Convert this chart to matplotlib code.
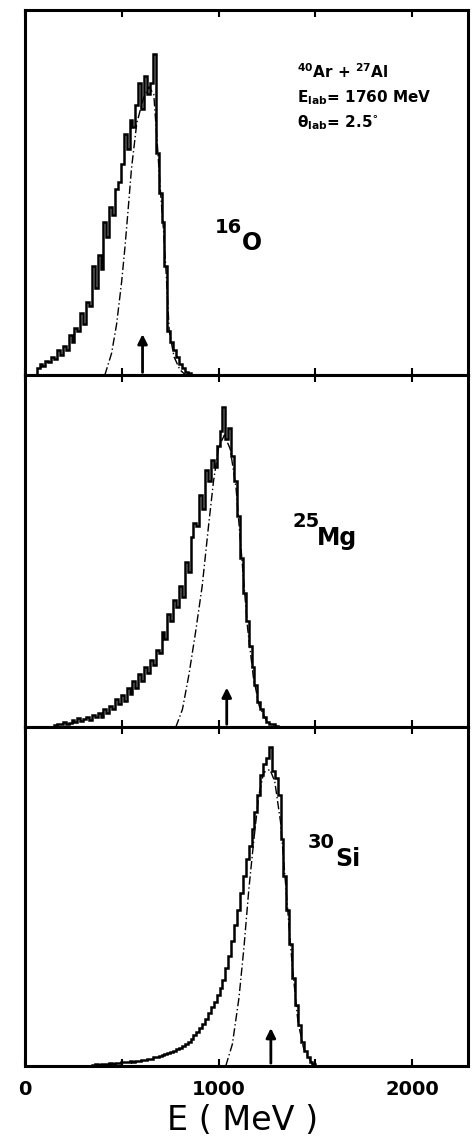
import numpy as np
import matplotlib.pyplot as plt

plt.rcParams['font.family'] = 'DejaVu Sans'
plt.rcParams['mathtext.default'] = 'bf'

# histogram bins (MeV)
bin_width = 15

# 16O spectrum, bins start at 60 MeV (arbitrary units, panel height = 100)
o16_start = 60
o16_counts = [2, 3, 2.5, 4, 3.5, 5, 4.5, 7, 5.5, 8, 7, 11, 9, 13, 12, 17, 14, 20, 19, 30,
              24, 33, 29, 42, 38, 46, 44, 51, 53, 58, 66, 62, 70, 68, 74, 80, 73, 82, 77, 80,
              88, 61, 50, 42, 30, 12, 9, 7, 5, 3, 2, 1, 0.5]

# 25Mg spectrum, bins start at 150 MeV
mg25_start = 150
mg25_counts = [0.5, 1, 0.8, 1.5, 1, 1.2, 2, 1.5, 2.5, 1.8, 2.2, 3, 2, 3.5, 2.8, 4, 3, 5, 4, 6,
               5, 8, 6.5, 9, 7.5, 11, 9.5, 13, 11, 15, 13, 17, 15.5, 19, 17.5, 22, 21, 27, 25, 32,
               30, 36, 34, 40, 37, 47, 44, 54, 58, 57, 66, 62, 73, 70, 76, 74, 80, 84, 91, 82,
               85, 77, 70, 60, 48, 38, 30, 23, 17, 12, 7, 5, 3, 1.5, 1, 0.8, 0.4]

# 30Si spectrum, bins start at 345 MeV
si30_start = 345
si30_counts = [0.3, 0.5, 0.4, 0.6, 0.5, 0.7, 0.8, 0.7, 1, 0.9, 1.1, 1.2, 1.1, 1.4, 1.3, 1.6, 1.5, 1.8, 1.9, 2.1,
               2.2, 2.5, 2.6, 3, 3.2, 3.5, 3.8, 4.2, 4.5, 4.9, 5.3, 5.8, 6.5, 7.2, 8, 9, 10, 11.3, 12.5, 14,
               15.5, 17.5, 19, 21, 23, 25.5, 29, 32.5, 37, 41.5, 46, 51, 56, 61, 65, 70, 75, 80, 86, 89,
               91, 94, 87, 85, 80, 67, 56, 46, 36, 26, 18, 12, 7, 4.5, 2.5, 1.2, 0.5]

# dash-dot fitted curves
o16_fit_e = [412, 447, 473, 499, 516, 533, 550, 577, 612, 640, 665, 685, 700, 715, 730, 745, 770, 800, 830]
o16_fit_y = [0, 6, 14, 25.6, 35, 45.7, 56.7, 69, 76, 79, 77, 62, 50, 40, 27, 12, 5, 1.5, 0]
mg25_fit_e = [779, 813, 847, 881, 915, 949, 974, 1000, 1030, 1060, 1090, 1120, 1150, 1180, 1210, 1250, 1290]
mg25_fit_y = [0, 5, 15, 27, 40, 57.7, 70, 79.5, 83, 79, 68, 48, 28, 14, 6, 1.5, 0]
si30_fit_e = [1037, 1071, 1105, 1131, 1156, 1182, 1207, 1233, 1265, 1290, 1320, 1350, 1380, 1410, 1440, 1480, 1500]
si30_fit_y = [0, 6.4, 20, 35, 52, 66.7, 79.6, 86.6, 87.5, 84, 72, 51, 30, 13, 5, 1, 0]

# arrows (MeV)
arrow_e = [607, 1042, 1270]

panels = [
    (o16_start, o16_counts, o16_fit_e, o16_fit_y),
    (mg25_start, mg25_counts, mg25_fit_e, mg25_fit_y),
    (si30_start, si30_counts, si30_fit_e, si30_fit_y),
]

fig = plt.figure(figsize=(4.73, 11.43), dpi=100)
gs = fig.add_gridspec(3, 1, height_ratios=[365, 352, 339], hspace=0,
                      left=0.053, right=0.99, top=0.991, bottom=0.0674)

for i, (start, counts, fe, fy) in enumerate(panels):
    ax = fig.add_subplot(gs[i])
    edges = start + bin_width * np.arange(len(counts) + 1)
    ax.stairs(counts, edges, color='black', lw=1.8)
    ax.plot(fe, fy, color='black', lw=1.0, ls=(0, (6, 2, 1, 2)))
    ax.annotate('', xy=(arrow_e[i], 12), xytext=(arrow_e[i], 0),
                arrowprops=dict(arrowstyle='-|>', lw=2, color='black', mutation_scale=14))
    ax.set_xlim(0, 2290)
    ax.set_ylim(0, 100)
    ax.set_yticks([])
    ax.set_xticks([0, 1000, 2000])
    ax.set_xticks([500, 1500], minor=True)
    ax.tick_params(axis='x', which='both', direction='in', top=True, bottom=True,
                   length=5, width=1.5, pad=10, labelsize=14)
    for sp in ax.spines.values():
        sp.set_linewidth(2.2)
    if i < 2:
        ax.set_xticklabels([])
    else:
        for lab in ax.get_xticklabels():
            lab.set_fontweight('bold')

W, H = 473.0, 1143.0
def ftext(px, py, s, ha='left', **kw):
    fig.text(px / W, 1 - py / H, s, ha=ha, va='baseline', fontweight='bold', **kw)

# isotope labels
ftext(242, 233, '16', ha='right', fontsize=14)
ftext(242, 250, 'O', fontsize=17)
ftext(320, 527, '25', ha='right', fontsize=14)
ftext(317, 545, 'Mg', fontsize=17)
ftext(335, 848, '30', ha='right', fontsize=14)
ftext(335, 866, 'Si', fontsize=17)

# reaction info
ftext(297, 78, r'$^{40}$Ar + $^{27}$Al', fontsize=11)
ftext(297, 102, r'E$_{lab}$= 1760 MeV', fontsize=11)
ftext(297, 127, r'$\theta_{lab}$= 2.5$^{\circ}$', fontsize=11)

fig.text(243 / W, 1 - 1130 / H, 'E ( MeV )', fontsize=24, ha='center', va='baseline')

fig.savefig('out.png', dpi=100)
